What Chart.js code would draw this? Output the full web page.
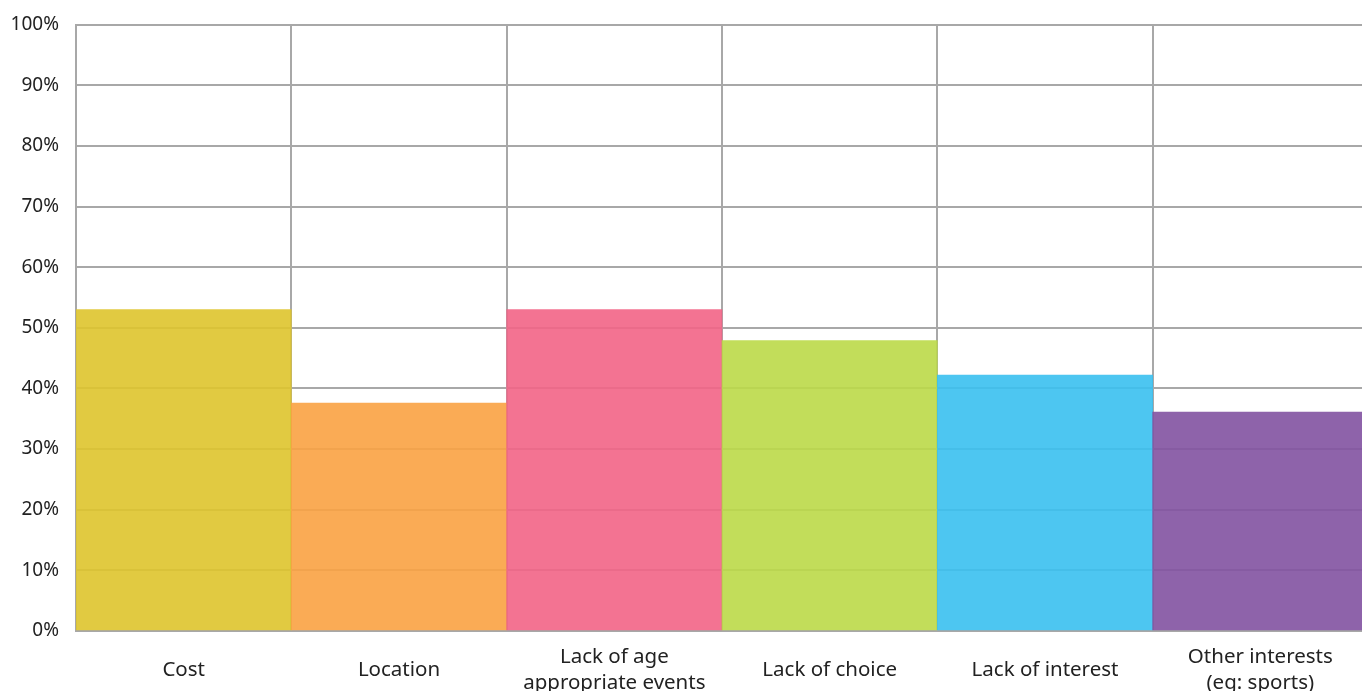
<!DOCTYPE html>
<html>
<head>
<meta charset="utf-8">
<script src="https://cdn.jsdelivr.net/npm/chart.js@4"></script>
<style>
  html, body { margin: 0; padding: 0; background: #fff; overflow: hidden; }
  #wrap { width: 1368px; height: 691px; }
</style>
</head>
<body>
<div id="wrap"><canvas id="myChart"></canvas></div>
<script>
const categories = ["Cost", "Location", ["Lack of age", "appropriate events"], "Lack of choice", "Lack of interest", ["Other interests", "(eg: sports)"]];
const shares = [53, 37.6, 53, 47.9, 42.2, 36.1];
const yTicks = [0, 10, 20, 30, 40, 50, 60, 70, 80, 90, 100];

// bar fills are a touch see-through so the grid shows faintly over them
var barColors = ["rgba(222,196,44,0.9)", "rgba(249,162,66,0.9)", "rgba(242,100,134,0.9)",
                 "rgba(187,217,72,0.9)", "rgba(58,192,239,0.9)", "rgba(130,82,161,0.9)"];
const yFont = { family: "'Noto Sans', sans-serif", size: 19, lineHeight: 0.8 };
const xFont = { family: "'Noto Sans', sans-serif", size: 20.5, lineHeight: 1.27 };

const ctx = document.getElementById('myChart').getContext('2d');
var myChart = new Chart(ctx, {
  type: 'bar',
  data: {
    labels: categories,
    datasets: [{
      data: shares,
      backgroundColor: barColors,
      borderWidth: 0,
      barPercentage: 1,
      categoryPercentage: 1
    }]
  },
  options: {
    responsive: true,
    maintainAspectRatio: false,
    animation: false,
    layout: { padding: { top: 14, right: 0, left: 0, bottom: 0 } },
    plugins: { legend: { display: false }, tooltip: { enabled: false } },
    scales: {
      x: {
        grid: { color: "#a8a8a8", lineWidth: 2, drawTicks: false },
        border: { display: false },
        ticks: { color: "#222", font: xFont, padding: 26, crossAlign: 'center', maxRotation: 0, autoSkip: false },
        afterFit: axis => { axis.height = 60; }
      },
      y: {
        min: 0,
        max: 100,
        afterBuildTicks: axis => { axis.ticks = yTicks.map(v => ({ value: v })); },
        grid: { color: "#a8a8a8", lineWidth: 2, drawTicks: false },
        border: { color: "#a8a8a8", width: 2 },
        ticks: { color: "#222", font: yFont, padding: 17, callback: v => v + "%" },
        afterFit: axis => { axis.width = 76; }
      }
    }
  }
});
</script>
</body>
</html>
